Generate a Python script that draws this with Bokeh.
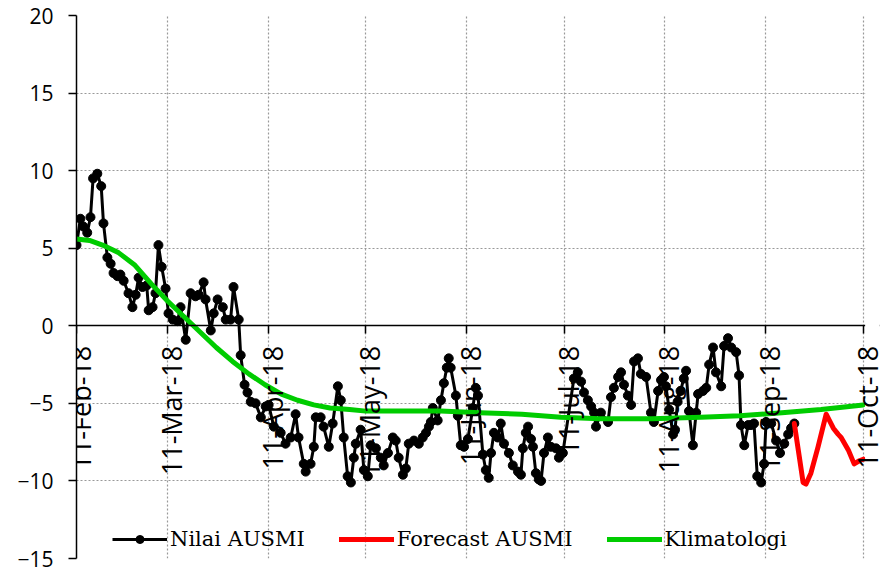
import numpy as np
import pandas as pd
from bokeh.plotting import figure
from bokeh.core.properties import value
from bokeh.models import (Range1d, FixedTicker, Legend, LegendItem, LabelSet,
                          ColumnDataSource, BoxAnnotation)
from bokeh.embed import file_html
from bokeh.resources import INLINE

start_date = pd.Timestamp("2018-02-11")
end_date = pd.Timestamp("2018-10-11")
tick_dates = ["2018-02-11", "2018-03-11", "2018-04-11", "2018-05-11", "2018-06-11",
              "2018-07-11", "2018-08-11", "2018-09-11", "2018-10-11"]
tick_labels = ["11-Feb-18", "11-Mar-18", "11-Apr-18", "11-May-18", "11-Jun-18",
               "11-Jul-18", "11-Aug-18", "11-Sep-18", "11-Oct-18"]
y_ticks = [-15, -10, -5, 0, 5, 10, 15, 20]

# Nilai AUSMI: days after 11-Feb-18 and values
nilai_day = [0.0, 1.2, 2.1, 3.3, 4.3, 5.1, 6.4, 7.6, 8.3, 9.5, 10.5, 11.4, 12.6, 13.5, 14.5,
             16.0, 17.2, 18.2, 19.1, 20.3, 21.6, 22.2, 23.4, 24.3, 25.2, 26.2, 27.4, 28.3,
             29.6, 31.1, 32.0, 33.6, 35.1, 36.6, 37.6, 39.1, 39.7, 41.3, 42.2, 43.4, 45.0,
             45.9, 47.4, 48.3, 49.9, 50.5, 51.7, 52.6, 53.6, 55.1, 56.7, 58.2, 59.1, 60.7,
             62.8, 64.3, 65.9, 67.4, 68.3, 69.9, 70.5, 72.0, 73.0, 73.6, 75.1, 76.0, 77.6,
             78.8, 80.4, 81.3, 82.2, 83.4, 84.4, 85.3, 85.9, 87.4, 88.4, 89.6, 90.5, 92.1,
             93.6, 94.5, 95.8, 97.3, 98.2, 99.1, 100.4, 101.3, 102.2, 103.8, 105.3, 106.5,
             107.5, 108.4, 109.0, 109.6, 111.1, 112.1, 113.0, 113.9, 114.5, 115.1, 116.7,
             117.3, 118.2, 119.2, 120.4, 121.9, 122.8, 123.5, 125.0, 125.9, 126.8, 127.5,
             128.4, 129.6, 130.5, 131.5, 133.0, 134.2, 135.8, 136.7, 137.3, 138.2, 138.9,
             139.8, 140.4, 141.3, 142.2, 142.9, 143.8, 145.0, 145.9, 147.5, 148.4, 149.6,
             153.0, 154.2, 155.2, 156.1, 157.3, 158.3, 159.2, 159.8, 161.3, 163.5, 164.4,
             165.3, 166.6, 167.5, 168.4, 169.6, 170.6, 171.5, 172.7, 173.6, 175.2, 176.7,
             177.6, 178.9, 179.8, 180.7, 181.3, 182.3, 183.5, 184.1, 184.9, 185.8, 186.8,
             187.5, 188.4, 189.6, 190.6, 191.2, 192.7, 193.7, 194.6, 195.8, 196.7, 198.3,
             199.2, 200.4, 201.4, 202.9, 203.8, 204.4, 205.4, 206.6, 207.5, 208.4, 209.4,
             210.6, 211.5, 212.1, 213.7, 215.2, 216.4, 217.7, 218.9, 219.8, 220.8]
nilai_val = [5.2, 6.9, 6.4, 6.0, 7.0, 9.5, 9.8, 9.0, 6.6, 4.4, 4.0, 3.4, 3.2, 3.3, 2.9,
             2.1, 1.2, 2.0, 3.1, 2.5, 2.6, 1.0, 1.2, 2.1, 5.2, 3.8, 2.4, 0.8,
             0.4, 0.3, 1.2, -0.9, 2.1, 1.9, 2.0, 2.8, 1.7, -0.3, 0.8, 1.7, 1.2,
             0.4, 0.4, 2.5, 0.4, -1.9, -3.8, -4.3, -4.9, -5.0, -5.9, -5.2, -5.1, -6.5,
             -6.9, -7.6, -7.2, -5.7, -7.2, -8.9, -9.4, -8.9, -7.8, -5.9, -5.9, -6.5, -7.8,
             -6.3, -3.9, -4.8, -7.2, -9.7, -10.1, -8.5, -7.6, -6.7, -9.3, -9.7, -7.7, -7.9,
             -8.5, -9.0, -8.2, -7.2, -7.4, -8.5, -9.6, -9.2, -7.6, -7.4, -7.6, -7.2,
             -6.9, -6.5, -6.2, -5.3, -6.1, -4.8, -3.7, -2.7, -2.1, -2.7, -4.5,
             -5.8, -7.7, -7.8, -7.3, -5.3, -4.0, -4.5, -8.3, -9.3, -9.8, -8.2,
             -6.9, -7.2, -6.3, -7.6, -8.2, -9.0, -9.4, -9.6, -7.9, -6.9, -6.5,
             -7.3, -7.8, -9.5, -9.9, -10.0, -8.2, -7.2, -7.8, -7.9, -8.5, -8.2,
             -3.4, -3.0, -3.6, -4.3, -4.8, -5.2, -5.6, -6.5, -5.6, -6.2, -4.6,
             -4.0, -3.3, -3.0, -3.8, -4.5, -5.1, -2.3, -2.1, -3.1, -3.3, -5.6,
             -6.2, -4.2, -3.5, -3.3, -3.9, -5.4, -7.0, -6.7, -4.9, -4.2, -3.4,
             -2.9, -5.5, -7.7, -5.6, -4.4, -4.2, -4.0, -2.5, -1.4, -3.0, -3.9,
             -1.3, -0.8, -1.4, -1.7, -3.2, -6.4, -7.7, -6.4, -6.4, -6.3, -9.7,
             -10.1, -8.9, -6.2, -6.3, -7.4, -8.2, -7.6, -7.0, -6.6, -6.3]

# Forecast AUSMI
forecast_day = [220.8, 222.3, 223.5, 224.4, 225.9, 228.1, 230.6, 232.8, 234.3, 235.2,
                237.4, 239.2, 240.8, 242.0]
forecast_val = [-6.3, -8.4, -10.1, -10.2, -9.5, -7.8, -5.7, -6.6, -7.0, -7.2,
                -8.0, -8.9, -8.7, -8.6]

# Klimatologi
klim_day = [0, 4, 8, 13, 18, 23, 28, 33, 38, 43, 48, 53, 58, 63, 68, 73, 78, 84, 89,
            100, 112, 124, 137, 149, 161, 177, 192, 204, 217, 229, 242]
klim_val = [5.6, 5.5, 5.2, 4.7, 3.9, 2.7, 1.6, 0.6, -0.4, -1.4, -2.3, -3.1, -3.8, -4.4,
            -4.8, -5.1, -5.3, -5.4, -5.5, -5.5, -5.5, -5.6, -5.7, -5.9, -6.0, -6.0, -5.9,
            -5.8, -5.6, -5.4, -5.1]


def to_dates(days):
    return start_date + pd.to_timedelta(np.asarray(days, dtype=float), unit="D")


TICK_FONT = "Open Sans"
GRID_COLOR = "#999999"

# the frame runs a few days past the last date so that the last tick label has room;
# that extra strip is blanked out below
pad_end = end_date + pd.Timedelta(days=5)

p = figure(width=881, height=571, output_backend="svg", toolbar_location=None,
           x_axis_type="datetime",
           x_range=Range1d(start_date, pad_end), y_range=Range1d(-15, 20),
           min_border_left=76, min_border_top=15, min_border_right=2, min_border_bottom=13)
p.outline_line_color = None
p.background_fill_color = "white"
p.border_fill_color = "white"

tick_ms = [pd.Timestamp(d).timestamp() * 1000.0 for d in tick_dates]
xticker = FixedTicker(ticks=tick_ms, minor_ticks=[])
yticker = FixedTicker(ticks=y_ticks, minor_ticks=[])

# x axis crossing at y = 0: line and ticks from the axis, labels as a LabelSet
xa = p.xaxis[0]
xa.fixed_location = 0
xa.ticker = xticker
xa.major_label_text_font_size = "0px"
xa.major_label_text_alpha = 0
xa.axis_line_color = "black"
xa.axis_line_width = 1.5
xa.major_tick_line_color = "black"
xa.major_tick_line_width = 1.5
xa.major_tick_out = 8
xa.major_tick_in = 0
xa.minor_tick_line_color = None

ya = p.yaxis[0]
ya.ticker = yticker
ya.major_label_text_font = TICK_FONT
ya.major_label_text_font_size = "21px"
ya.major_label_text_color = "black"
ya.major_label_standoff = 15
ya.axis_line_color = "black"
ya.axis_line_width = 1.5
ya.major_tick_line_color = "black"
ya.major_tick_line_width = 1.5
ya.major_tick_out = 8
ya.major_tick_in = 0
ya.minor_tick_line_color = None

p.xgrid.ticker = xticker
p.ygrid.ticker = yticker
for g in (p.xgrid[0], p.ygrid[0]):
    g.grid_line_color = GRID_COLOR
    g.grid_line_dash = "2 2"
    g.grid_line_width = 1.2

src_n = ColumnDataSource(dict(x=to_dates(nilai_day), y=nilai_val))
src_f = ColumnDataSource(dict(x=to_dates(forecast_day), y=forecast_val))
src_k = ColumnDataSource(dict(x=to_dates(klim_day), y=klim_val))

r_nl = p.line("x", "y", source=src_n, line_color="black", line_width=3)
r_nm = p.scatter("x", "y", source=src_n, marker="circle", size=9,
                 fill_color="black", line_color="black")
r_f = p.line("x", "y", source=src_f, line_color="#ff0000", line_width=5,
             line_join="round", line_cap="round")
r_k = p.line("x", "y", source=src_k, line_color="#00cc00", line_width=5,
             line_join="round", line_cap="round")

# blank the strip right of the last date
blank = BoxAnnotation(left=end_date + pd.Timedelta(hours=14), fill_color="white",
                      fill_alpha=1.0, line_color=None)
p.add_layout(blank)

src_t = ColumnDataSource(dict(x=pd.to_datetime(tick_dates), y=[0] * len(tick_dates),
                              text=tick_labels))
xlabels = LabelSet(x="x", y="y", text="text", source=src_t, angle=np.pi / 2,
                   text_align="right", text_baseline="middle", x_offset=4, y_offset=-20,
                   text_font=value(TICK_FONT), text_font_size=value("27px"),
                   text_color="black")
p.add_layout(xlabels)

legend = Legend(items=[LegendItem(label="Nilai AUSMI", renderers=[r_nl, r_nm]),
                       LegendItem(label="Forecast AUSMI", renderers=[r_f]),
                       LegendItem(label="Klimatologi", renderers=[r_k])],
                orientation="horizontal", location=(36, 7))
legend.glyph_width = 55
legend.glyph_height = 20
legend.label_standoff = 3
legend.spacing = 34
legend.padding = 0
legend.margin = 0
legend.background_fill_alpha = 0
legend.border_line_color = None
legend.label_text_font = "DejaVu Serif"
legend.label_text_font_size = "21px"
legend.label_text_color = "black"
p.add_layout(legend)

open("out.html", "w").write(file_html(p, INLINE))
